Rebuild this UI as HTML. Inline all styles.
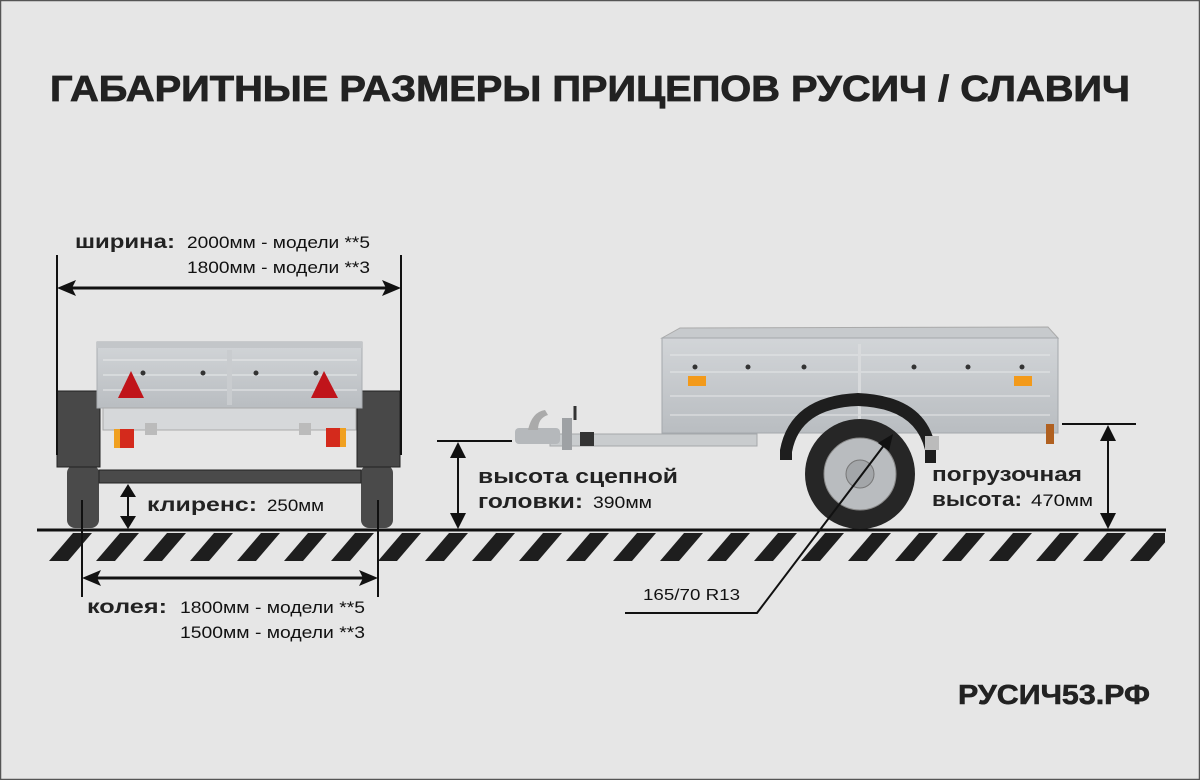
<!DOCTYPE html>
<html><head><meta charset="utf-8"><style>
html,body{margin:0;padding:0;background:#e6e6e6;}
svg{display:block;}
.b{font-family:"Liberation Sans",sans-serif;font-weight:bold;fill:#222;}
.n{font-family:"Liberation Sans",sans-serif;fill:#111;}
</style></head><body>
<svg width="1200" height="780" viewBox="0 0 1200 780" xmlns="http://www.w3.org/2000/svg">
<defs>
<pattern id="hatch" x="49" y="533" width="47" height="28" patternUnits="userSpaceOnUse">
<polygon points="0,28 19,28 43,0 24,0" fill="#1e1e1e"/>
<polygon points="47,28 66,28 90,0 71,0" fill="#1e1e1e"/>
<polygon points="-47,28 -28,28 -4,0 -23,0" fill="#1e1e1e"/>
</pattern>
<clipPath id="band"><rect x="45" y="533" width="1120" height="28"/></clipPath>
<linearGradient id="metal" x1="0" y1="0" x2="0" y2="1">
<stop offset="0" stop-color="#d2d5d8"/><stop offset="1" stop-color="#b9bdc1"/></linearGradient>
</defs>
<rect x="0.5" y="0.5" width="1199" height="779" fill="#e6e6e6" stroke="#555" stroke-width="1.5"/>

<text class="b" x="50" y="101" font-size="36" textLength="1080" lengthAdjust="spacingAndGlyphs" stroke="#222" stroke-width="0.8">ГАБАРИТНЫЕ РАЗМЕРЫ ПРИЦЕПОВ РУСИЧ / СЛАВИЧ</text>

<!-- ground -->
<line x1="37" y1="530" x2="1166" y2="530" stroke="#111" stroke-width="3"/>
<rect x="45" y="533" width="1120" height="28" fill="url(#hatch)" clip-path="url(#band)"/>

<!-- LEFT TRAILER (rear view) -->
<rect x="67" y="465" width="32" height="63" rx="8" fill="#4a4a4a"/>
<rect x="361" y="465" width="32" height="63" rx="8" fill="#4a4a4a"/>
<rect x="57" y="391" width="43" height="76" fill="#484848" stroke="#222"/>
<rect x="357" y="391" width="43" height="76" fill="#484848" stroke="#222"/>
<rect x="99" y="470" width="262" height="13" fill="#4a4a4a" stroke="#222"/>
<rect x="97" y="342" width="265" height="66" fill="url(#metal)" stroke="#a9adb1"/>
<rect x="97" y="342" width="265" height="6" fill="#c3c6c9"/>
<line x1="103" y1="360" x2="357" y2="360" stroke="#e8eaeb"/>
<line x1="103" y1="375" x2="357" y2="375" stroke="#e8eaeb"/>
<line x1="103" y1="390" x2="357" y2="390" stroke="#e8eaeb"/>
<rect x="227" y="350" width="5" height="55" fill="#c9cccf"/>
<rect x="103" y="408" width="253" height="22" fill="#d6d8da" stroke="#aaa"/>
<polygon points="118,398 131,371 144,398" fill="#c0141a"/>
<polygon points="311,398 324,371 338,398" fill="#c0141a"/>
<circle cx="143" cy="373" r="2.5" fill="#333"/><circle cx="203" cy="373" r="2.5" fill="#333"/>
<circle cx="256" cy="373" r="2.5" fill="#333"/><circle cx="316" cy="373" r="2.5" fill="#333"/>
<rect x="114" y="429" width="20" height="19" fill="#d42a1c"/><rect x="114" y="429" width="6" height="19" fill="#f0a020"/>
<rect x="326" y="428" width="20" height="19" fill="#d42a1c"/><rect x="340" y="428" width="6" height="19" fill="#f0a020"/>
<rect x="145" y="423" width="12" height="12" fill="#bbb"/><rect x="299" y="423" width="12" height="12" fill="#bbb"/>

<!-- width dim -->
<line x1="57" y1="255" x2="57" y2="455" stroke="#111" stroke-width="2"/>
<line x1="401" y1="255" x2="401" y2="455" stroke="#111" stroke-width="2"/>
<line x1="66" y1="288" x2="392" y2="288" stroke="#111" stroke-width="3"/>
<polygon points="57,288 76,280 72,288 76,296" fill="#111"/>
<polygon points="401,288 382,280 386,288 382,296" fill="#111"/>
<text class="b" x="75" y="248" font-size="19" textLength="100" lengthAdjust="spacingAndGlyphs">ширина:</text>
<text class="n" x="187" y="248" font-size="17" textLength="183" lengthAdjust="spacingAndGlyphs">2000мм - модели **5</text>
<text class="n" x="187" y="273" font-size="17" textLength="183" lengthAdjust="spacingAndGlyphs">1800мм - модели **3</text>

<!-- clearance -->
<line x1="128" y1="492" x2="128" y2="521" stroke="#111" stroke-width="2"/>
<polygon points="128,484 120,497 136,497" fill="#111"/>
<polygon points="128,529 120,516 136,516" fill="#111"/>
<text class="b" x="147" y="511" font-size="19" textLength="110" lengthAdjust="spacingAndGlyphs">клиренс:</text>
<text class="n" x="267" y="511" font-size="17" textLength="57" lengthAdjust="spacingAndGlyphs">250мм</text>

<!-- track dim -->
<line x1="82" y1="500" x2="82" y2="597" stroke="#111" stroke-width="2"/>
<line x1="378" y1="500" x2="378" y2="597" stroke="#111" stroke-width="2"/>
<line x1="90" y1="578" x2="370" y2="578" stroke="#111" stroke-width="3"/>
<polygon points="82,578 101,570 97,578 101,586" fill="#111"/>
<polygon points="378,578 359,570 363,578 359,586" fill="#111"/>
<text class="b" x="87" y="613" font-size="19" textLength="80" lengthAdjust="spacingAndGlyphs">колея:</text>
<text class="n" x="180" y="613" font-size="17" textLength="185" lengthAdjust="spacingAndGlyphs">1800мм - модели **5</text>
<text class="n" x="180" y="638" font-size="17" textLength="185" lengthAdjust="spacingAndGlyphs">1500мм - модели **3</text>

<!-- RIGHT TRAILER (side view) -->
<polygon points="662,338 680,328 1048,327 1058,338" fill="#c7cacd" stroke="#aaa"/>
<rect x="662" y="338" width="396" height="95" fill="url(#metal)" stroke="#a4a8ac"/>
<line x1="670" y1="355" x2="1050" y2="355" stroke="#e5e7e8"/>
<line x1="670" y1="372" x2="1050" y2="372" stroke="#e5e7e8"/>
<line x1="670" y1="396" x2="1050" y2="396" stroke="#e5e7e8"/>
<line x1="670" y1="415" x2="1050" y2="415" stroke="#e5e7e8"/>
<rect x="858" y="344" width="3" height="84" fill="#d8dadc"/>
<rect x="688" y="376" width="18" height="10" fill="#f39a1a"/>
<rect x="1014" y="376" width="18" height="10" fill="#f39a1a"/>
<g fill="#333"><circle cx="695" cy="367" r="2.5"/><circle cx="748" cy="367" r="2.5"/><circle cx="804" cy="367" r="2.5"/><circle cx="914" cy="367" r="2.5"/><circle cx="968" cy="367" r="2.5"/><circle cx="1022" cy="367" r="2.5"/></g>
<rect x="1046" y="424" width="8" height="20" fill="#b06020"/>
<!-- drawbar & coupler -->
<rect x="550" y="434" width="207" height="12" fill="#c9ccce" stroke="#a5a8ab"/>
<rect x="515" y="428" width="45" height="16" rx="4" fill="#b5b8bb"/>
<path d="M528,430 Q532,412 545,410 L548,415 Q538,418 538,430 Z" fill="#aaa"/>
<rect x="562" y="418" width="10" height="32" fill="#9ea1a4"/>
<line x1="575" y1="406" x2="575" y2="420" stroke="#333" stroke-width="3"/>
<rect x="580" y="432" width="14" height="14" fill="#333"/>
<!-- fender & wheel -->
<path d="M780,460 L780,450 Q790,396 858,393 Q928,396 936,450 L936,463 L925,463 L925,450 Q915,408 858,406 Q800,408 792,452 L792,460 Z" fill="#1e1e1e"/>
<circle cx="860" cy="474" r="55" fill="#262626"/>
<circle cx="860" cy="474" r="36" fill="#b9bcbf" stroke="#888"/>
<circle cx="860" cy="474" r="14" fill="#a3a6a9" stroke="#777"/>
<rect x="925" y="436" width="14" height="14" fill="#bbb"/>
<!-- hitch height -->
<line x1="437" y1="441" x2="512" y2="441" stroke="#111" stroke-width="2"/>
<line x1="458" y1="452" x2="458" y2="518" stroke="#111" stroke-width="2"/>
<polygon points="458,442 450,458 466,458" fill="#111"/>
<polygon points="458,529 450,513 466,513" fill="#111"/>
<text class="b" x="478" y="483" font-size="20" textLength="200" lengthAdjust="spacingAndGlyphs">высота сцепной</text>
<text class="b" x="478" y="508" font-size="20" textLength="105" lengthAdjust="spacingAndGlyphs">головки:</text>
<text class="n" x="593" y="508" font-size="17" textLength="59" lengthAdjust="spacingAndGlyphs">390мм</text>
<!-- load height -->
<line x1="1062" y1="424" x2="1136" y2="424" stroke="#111" stroke-width="2"/>
<line x1="1108" y1="436" x2="1108" y2="518" stroke="#111" stroke-width="2"/>
<polygon points="1108,425 1100,441 1116,441" fill="#111"/>
<polygon points="1108,529 1100,513 1116,513" fill="#111"/>
<text class="b" x="932" y="481" font-size="20" textLength="150" lengthAdjust="spacingAndGlyphs">погрузочная</text>
<text class="b" x="932" y="506" font-size="20" textLength="90" lengthAdjust="spacingAndGlyphs">высота:</text>
<text class="n" x="1031" y="506" font-size="17" textLength="62" lengthAdjust="spacingAndGlyphs">470мм</text>
<!-- tire leader -->
<polyline points="888,440 757,613 625,613" fill="none" stroke="#111" stroke-width="2"/>
<polygon points="893,434 878,443 889,451" fill="#111"/>
<text class="n" x="643" y="600" font-size="16" textLength="97" lengthAdjust="spacingAndGlyphs">165/70 R13</text>

<text class="b" x="958" y="704" font-size="28" textLength="192" lengthAdjust="spacingAndGlyphs" stroke="#222" stroke-width="0.6">РУСИЧ53.РФ</text>
</svg>
</body></html>
